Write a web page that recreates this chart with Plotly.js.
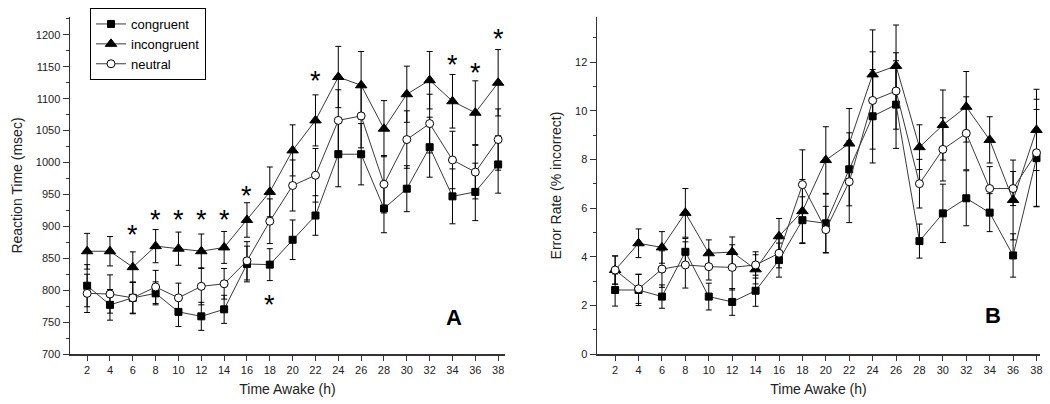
<!DOCTYPE html>
<html>
<head>
<meta charset="utf-8">
<script src="https://cdn.plot.ly/plotly-3.0.1.min.js"></script>
<style>
  html, body { margin: 0; padding: 0; background: #ffffff; }
  #chart { width: 1050px; height: 404px; }
</style>
</head>
<body>
<div id="chart"></div>
<script>
// ---------- data ----------
const hours = [2, 4, 6, 8, 10, 12, 14, 16, 18, 20, 22, 24, 26, 28, 30, 32, 34, 36, 38];
const hourTicks = ["2","4","6","8","10","12","14","16","18","20","22","24","26","28","30","32","34","36","38"];

// Panel A: Reaction Time (msec)
const rtCongruent   = [807, 777, 788, 795, 766, 759, 770, 841, 840, 879, 917, 1013, 1013, 928, 959, 1024, 947, 954, 997];
const rtCongruentErr   = [33, 24, 24, 18, 23, 22, 22, 28, 25, 31, 31, 51, 48, 38, 36, 47, 43, 45, 45];
const rtIncongruent = [861, 861, 836, 869, 865, 861, 867, 910, 954, 1019, 1066, 1134, 1121, 1053, 1107, 1129, 1096, 1078, 1125];
const rtIncongruentErr = [28, 23, 24, 26, 26, 27, 25, 27, 39, 40, 40, 48, 53, 44, 44, 45, 42, 50, 52];
const rtNeutral     = [795, 794, 788, 805, 788, 806, 810, 846, 908, 964, 980, 1066, 1073, 966, 1036, 1061, 1004, 985, 1036];
const rtNeutralErr     = [30, 30, 25, 26, 23, 29, 24, 30, 35, 40, 42, 48, 50, 45, 45, 46, 45, 42, 48];

// significance markers, panel A
const sigHours = [6, 8, 10, 12, 14, 16, 18, 22, 34, 36, 38];
const sigRT    = [898, 921, 921, 921, 921, 959, 788, 1138, 1163, 1152, 1205];

// Panel B: Error Rate (% incorrect)
const erCongruent   = [2.63, 2.63, 2.36, 4.2, 2.36, 2.14, 2.6, 3.86, 5.5, 5.37, 7.59, 9.77, 10.25, 4.64, 5.78, 6.4, 5.81, 4.05, 8.05];
const erCongruentErr   = [0.66, 0.64, 0.48, 0.55, 0.55, 0.55, 0.64, 0.7, 0.96, 1.2, 1.5, 1.92, 1.8, 0.7, 1.2, 1.13, 0.78, 0.89, 2.0];
const erIncongruent = [3.45, 4.55, 4.38, 5.8, 4.14, 4.19, 3.48, 4.84, 5.87, 7.97, 8.65, 11.49, 11.84, 8.5, 9.41, 10.16, 8.8, 6.33, 9.21];
const erIncongruentErr = [0.58, 0.59, 0.65, 1.0, 0.55, 0.62, 0.6, 0.73, 1.3, 1.37, 1.44, 1.83, 1.68, 0.92, 1.44, 1.45, 0.95, 1.64, 1.67];
const erNeutral     = [3.45, 2.68, 3.49, 3.66, 3.59, 3.56, 3.66, 4.14, 6.96, 5.11, 7.08, 10.42, 10.81, 7.0, 8.41, 9.07, 6.8, 6.8, 8.27];
const erNeutralErr     = [0.58, 0.6, 0.75, 0.95, 0.55, 0.93, 0.54, 0.6, 1.43, 0.96, 1.68, 2.0, 1.57, 1.0, 1.3, 1.5, 0.9, 0.7, 2.2];

const seriesNames = ["congruent", "incongruent", "neutral"];

// ---------- styles ----------
const FONT = "Arial, 'Liberation Sans', Helvetica, sans-serif";
const styles = [
  { symbol: "square",      size: 7, fill: "#000000" },
  { symbol: "triangle-up", size: 10, fill: "#000000" },
  { symbol: "circle",      size: 8, fill: "#ffffff" }
];

function makeTrace(y, err, idx, xa, ya, showlegend) {
  const s = styles[idx];
  return {
    type: "scatter",
    mode: "lines+markers",
    x: hours,
    y: y,
    name: seriesNames[idx],
    xaxis: xa,
    yaxis: ya,
    showlegend: showlegend,
    line: { color: "#3a3a3a", width: 1 },
    marker: { symbol: s.symbol, size: s.size, color: s.fill, line: { color: "#000000", width: 1 } },
    error_y: { type: "data", array: err, visible: true, color: "#000000", thickness: 1, width: 3 },
    cliponaxis: false
  };
}

const traces = [
  makeTrace(rtCongruent, rtCongruentErr, 0, "x", "y", true),
  makeTrace(rtIncongruent, rtIncongruentErr, 1, "x", "y", true),
  makeTrace(rtNeutral, rtNeutralErr, 2, "x", "y", true),
  makeTrace(erCongruent, erCongruentErr, 0, "x2", "y2", false),
  makeTrace(erIncongruent, erIncongruentErr, 1, "x2", "y2", false),
  makeTrace(erNeutral, erNeutralErr, 2, "x2", "y2", false)
];

const annotations = sigHours.map((h, i) => ({
  x: h, y: sigRT[i], xref: "x", yref: "y",
  text: "*", showarrow: false,
  font: { family: FONT, size: 27, color: "#000000" },
  xanchor: "center", yanchor: "middle", yshift: -7
}));
annotations.push({
  x: 34.1, y: 757, xref: "x", yref: "y", text: "<b>A</b>", showarrow: false,
  font: { family: FONT, size: 22, color: "#000000" }, xanchor: "center", yanchor: "middle"
});
annotations.push({
  x: 34.3, y: 1.6, xref: "x2", yref: "y2", text: "<b>B</b>", showarrow: false,
  font: { family: FONT, size: 22, color: "#000000" }, xanchor: "center", yanchor: "middle"
});

function xAxis(domain, range) {
  return {
    domain: domain, range: range,
    tickmode: "array", tickvals: hours, ticktext: hourTicks,
    ticks: "outside", ticklen: 5, tickwidth: 1, tickcolor: "#333333",
    showline: true, linecolor: "#333333", linewidth: 1.5,
    showgrid: false, zeroline: false,
    tickfont: { family: FONT, size: 11, color: "#222222" },
    title: { text: "Time Awake (h)", font: { family: FONT, size: 14, color: "#222222" }, standoff: 9 }
  };
}
function yAxis(domain, range, dtick, minorDtick, title, anchor) {
  return {
    domain: domain, range: range, anchor: anchor,
    tick0: 0, dtick: dtick,
    ticks: "outside", ticklen: 6, tickwidth: 1, tickcolor: "#333333",
    minor: { dtick: minorDtick, ticks: "outside", ticklen: 3, tickcolor: "#333333", showgrid: false },
    showline: true, linecolor: "#333333", linewidth: 1.5,
    showgrid: false, zeroline: false,
    tickfont: { family: FONT, size: 11, color: "#222222" },
    title: { text: title, font: { family: FONT, size: 14, color: "#222222" }, standoff: 10 }
  };
}

const layout = {
  width: 1050, height: 404,
  margin: { l: 0, r: 0, t: 0, b: 0 },
  paper_bgcolor: "#ffffff", plot_bgcolor: "#ffffff",
  font: { family: FONT, color: "#222222" },
  showlegend: true,
  legend: {
    x: 90 / 1050, y: 1 - 8 / 404, xanchor: "left", yanchor: "top",
    bgcolor: "#ffffff", bordercolor: "#000000", borderwidth: 1,
    font: { family: FONT, size: 13, color: "#000000" },
    tracegroupgap: 0, itemwidth: 30
  },
  xaxis: Object.assign(xAxis([70 / 1050, 505 / 1050], [0.5, 38.6]), { anchor: "y" }),
  yaxis: yAxis([1 - 354 / 404, 1 - 17 / 404], [700, 1228], 50, 25, "Reaction Time (msec)", "x"),
  xaxis2: Object.assign(xAxis([597 / 1050, 1040 / 1050], [0.45, 38.3]), { anchor: "y2" }),
  yaxis2: yAxis([1 - 354 / 404, 1 - 17 / 404], [0, 13.85], 2, 1, "Error Rate (% incorrect)", "x2"),
  annotations: annotations
};

Plotly.newPlot("chart", traces, layout, { staticPlot: true, displayModeBar: false });
</script>
</body>
</html>
